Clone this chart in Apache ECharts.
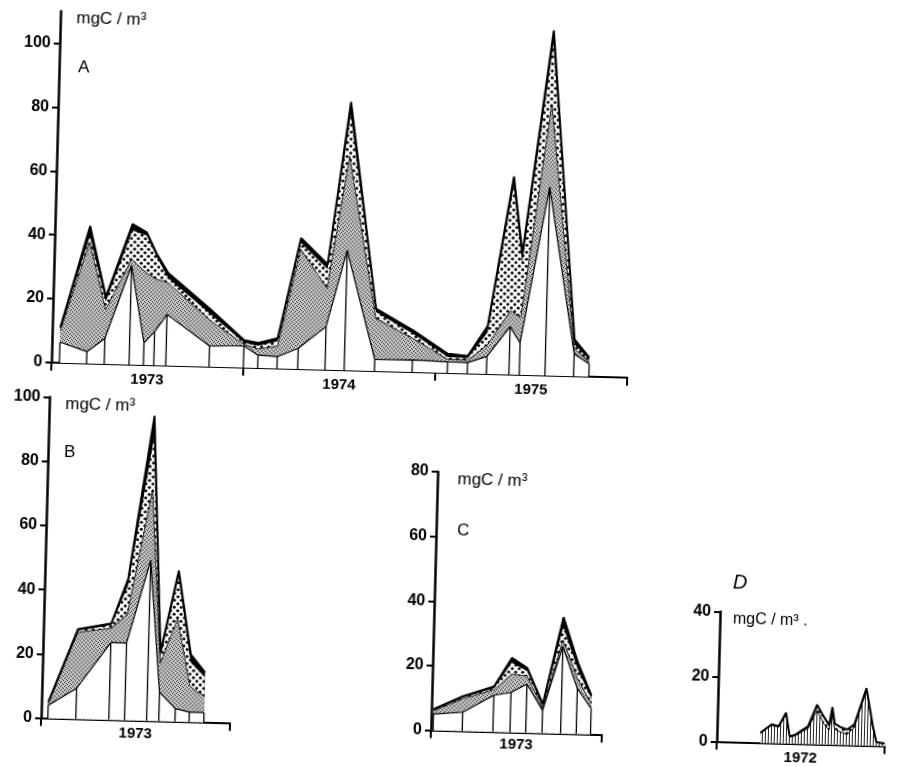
<!DOCTYPE html>
<html>
<head>
<meta charset="utf-8">
<script src="https://cdn.jsdelivr.net/npm/echarts@6/dist/echarts.min.js"></script>
<style>
html,body{margin:0;padding:0;background:#fff;overflow:hidden;}
#chart{width:898px;height:767px;transform:rotate(1.5deg);transform-origin:449px 383px;background:#fff;}
</style>
</head>
<body>
<div id="chart"></div>
<script>
// ---------- DATA (x = months from the start of the first year shown) ----------
const UNIT = 'mgC / m³';
const panelNames = ['A', 'B', 'C', 'D'];

// Panel A (1973-1975): cumulative layer tops
const A_years  = ['1973', '1974', '1975'];
const A_yTicks = [0, 20, 40, 60, 80, 100];
const A_xTicks = [0, 12, 24, 36];
const A_months = [0.5, 2.2, 3.3, 4.85, 5.75, 6.4, 7.15, 9.85, 12.0, 12.9, 14.1, 15.4, 17.1, 18.3, 20.2, 22.55, 24.75, 26.0, 27.2, 28.6, 29.25, 30.85, 32.65, 33.6];
const A_white  = [6.5, 3.7, 8, 31, 7, 10.5, 16, 6.5, 6.8, 4, 3.7, 6.5, 13.5, 37.5, 3.6, 3.8, 3.5, 3.4, 5.5, 15, 10, 59, 7, 4];
const A_gray   = [10, 38, 17, 33, 29, 27, 26, 14.5, 7.3, 6, 7, 37.5, 25.5, 67, 16.5, 10.5, 4.3, 4.2, 9, 20, 18, 85, 8.5, 4.8];
const A_dotted = [10.5, 40, 19.5, 42, 40.5, 34, 27.5, 16.5, 7.8, 7, 8.5, 39.5, 31.5, 80, 18.5, 12, 5, 4.8, 13, 59, 35, 104, 10, 5.3];
const A_total  = [11, 43, 21, 44, 41.5, 35, 29, 18, 8.6, 7.8, 9.5, 41, 33, 84, 19.5, 13, 6, 5.5, 15, 62, 38, 108, 11.5, 6];

// Panel B (1973)
const B_years  = ['1973'];
const B_yTicks = [0, 20, 40, 60, 80, 100];
const B_xTicks = [0, 12];
const B_months = [0.43, 2.2, 4.3, 5.3, 6.7, 7.47, 8.5, 9.4, 10.33];
const B_white  = [4, 9.5, 24, 24, 50, 9, 4, 3, 3];
const B_gray   = [4.5, 27, 28.5, 33, 72, 18, 32, 11, 8];
const B_dotted = [4.8, 27.5, 29.5, 42, 88, 20, 45, 18.5, 14];
const B_total  = [5, 28, 30, 44, 95, 21.5, 47, 21, 15.5];

// Panel C (1973)
const C_years  = ['1973'];
const C_yTicks = [0, 20, 40, 60, 80];
const C_xTicks = [0, 12];
const C_months = [0.15, 2.2, 4.35, 5.55, 6.65, 7.8, 9.1, 10.2, 11.2];
const C_white  = [5, 5.8, 11.3, 12.3, 15, 7, 27, 14, 8];
const C_gray   = [6, 10, 13, 18, 17.5, 7.6, 29, 17, 9.5];
const C_dotted = [6.2, 10.4, 13.5, 21.5, 19, 8.1, 33, 20, 11];
const C_total  = [6.5, 10.8, 14, 23, 20, 9, 36, 22, 12];

// Panel D (1972)
const D_years   = ['1972'];
const D_yTicks  = [0, 20, 40];
const D_xTicks  = [0, 12];
const D_months  = [3.1, 3.9, 4.4, 4.9, 5.2, 5.6, 6.1, 6.5, 7.1, 7.6, 8.0, 8.2, 8.4, 8.8, 9.3, 9.8, 10.6, 11.1, 11.4, 12.0];
const D_hatched = [3, 5.5, 5, 9, 2, 2.5, 3.8, 4.8, 10.5, 6.5, 4.5, 10.2, 4.8, 4, 3.3, 5.5, 17, 6, 1, 0.8];
const D_total   = [3.1, 5.8, 5.3, 9.5, 2.2, 2.8, 4.3, 5.5, 12.2, 8.6, 6, 11.6, 6.5, 5.5, 4.8, 6.5, 17.7, 6.5, 1.2, 0.8];

// ---------- FILL PATTERNS ----------
function makeCanvas(w, h, draw) {
  const c = document.createElement('canvas'); c.width = w; c.height = h;
  draw(c.getContext('2d')); return c;
}
const grayPat = makeCanvas(4, 4, g => {
  g.fillStyle = '#cbcbcb'; g.fillRect(0, 0, 4, 4);
  g.fillStyle = '#333';
  [[0, 0], [2, 1], [1, 3], [3, 2]].forEach(p => g.fillRect(p[0], p[1], 1, 1));
});
const dotPat = makeCanvas(7, 7, g => {
  g.fillStyle = '#fff'; g.fillRect(0, 0, 7, 7);
  g.fillStyle = '#111';
  [[1.75, 1.75], [5.25, 5.25]].forEach(p => { g.beginPath(); g.arc(p[0], p[1], 1.6, 0, Math.PI * 2); g.fill(); });
});
const hatchPat = makeCanvas(3, 3, g => {
  g.fillStyle = '#fff'; g.fillRect(0, 0, 3, 3);
  g.fillStyle = '#222'; g.fillRect(0, 0, 1, 3);
});
const pat = c => ({ image: c, repeat: 'repeat' });

// ---------- HELPERS ----------
const FONT = "'Liberation Sans', Arial, sans-serif";
const pts = (months, arr) => months.map((m, k) => [m, arr[k]]);

function areaSeries(idx, months, arr, fill, lineW) {
  return {
    type: 'line', xAxisIndex: idx, yAxisIndex: idx, symbol: 'none', silent: true,
    data: pts(months, arr),
    lineStyle: lineW > 0 ? { color: '#000', width: lineW } : { opacity: 0 },
    areaStyle: { color: fill, opacity: 1 }
  };
}
function stickSeries(idx, months, arr) {
  return {
    type: 'custom', xAxisIndex: idx, yAxisIndex: idx, silent: true, z: 10,
    clip: false,
    encode: { x: 0, y: 1 },
    data: pts(months, arr),
    renderItem: (params, api) => {
      const p0 = api.coord([api.value(0), 0]);
      const p1 = api.coord([api.value(0), api.value(1)]);
      return { type: 'line', z2: 100,
               shape: { x1: p0[0], y1: p0[1], x2: p1[0], y2: p1[1] },
               style: { stroke: '#000', lineWidth: 1.3, fill: null } };
    }
  };
}
function layered(idx, months, white, gray, dotted, total) {
  return [
    areaSeries(idx, months, total, '#000', 2),
    areaSeries(idx, months, dotted, pat(dotPat), 0),
    areaSeries(idx, months, gray, pat(grayPat), 0.8),
    areaSeries(idx, months, white, '#fff', 1.2),
    stickSeries(idx, months, white)
  ];
}
function yAx(idx, max, ticks) {
  return {
    type: 'value', gridIndex: idx, min: 0, max: max,
    axisLine: { show: true, lineStyle: { color: '#000', width: 2.5 } },
    axisTick: { show: true, length: 6, customValues: ticks, lineStyle: { color: '#000', width: 2 } },
    axisLabel: { customValues: ticks, margin: 9, color: '#000', fontSize: 16, fontWeight: 'bold', fontFamily: FONT },
    splitLine: { show: false }
  };
}
function xAx(idx, ticks, years, margin) {
  const max = ticks[ticks.length - 1];
  return {
    type: 'value', gridIndex: idx, min: 0, max: max,
    axisLine: { show: true, onZero: false, lineStyle: { color: '#000', width: 2 } },
    axisTick: { show: true, length: 8, customValues: ticks, lineStyle: { color: '#000', width: 2 } },
    axisLabel: {
      customValues: years.map((y, i) => 12 * i + 6),
      formatter: v => years[Math.floor(v / 12)],
      margin: margin, color: '#000', fontSize: 15, fontWeight: 'bold', fontFamily: FONT
    },
    splitLine: { show: false }
  };
}
const unitStyle = { fontFamily: FONT, fontSize: 17, fontWeight: 'normal', color: '#000' };
const nameStyle = { fontFamily: FONT, fontSize: 17, fontWeight: 'normal', color: '#000' };

// ---------- CHART ----------
const chart = echarts.init(document.getElementById('chart'));
chart.setOption({
  animation: false,
  backgroundColor: '#fff',
  title: [
    { text: UNIT, left: 67, top: 20, padding: 0, textStyle: unitStyle },
    { text: panelNames[0], left: 70, top: 69, padding: 0, textStyle: nameStyle },
    { text: UNIT, left: 66, top: 406, padding: 0, textStyle: unitStyle },
    { text: panelNames[1], left: 66, top: 454, padding: 0, textStyle: nameStyle },
    { text: UNIT, left: 460, top: 471, padding: 0, textStyle: unitStyle },
    { text: panelNames[2], left: 461, top: 522, padding: 0, textStyle: nameStyle },
    { text: UNIT + ' .', left: 739, top: 604, padding: 0, textStyle: { ...unitStyle, fontSize: 16 } },
    { text: panelNames[3], left: 738, top: 565, padding: 0, textStyle: { ...nameStyle, fontSize: 20, fontStyle: 'italic' } }
  ],
  grid: [
    { left: 51, top: 21.5, width: 576, height: 351.5, outerBoundsMode: 'none' },
    { left: 50, top: 407.5, width: 189, height: 321, outerBoundsMode: 'none' },
    { left: 440, top: 472, width: 171, height: 258.5, outerBoundsMode: 'none' },
    { left: 726, top: 604.6, width: 168, height: 130, outerBoundsMode: 'none' }
  ],
  xAxis: [
    xAx(0, A_xTicks, A_years, 7),
    xAx(1, B_xTicks, B_years, 6),
    xAx(2, C_xTicks, C_years, 5),
    xAx(3, D_xTicks, D_years, 7)
  ],
  yAxis: [
    yAx(0, 110, A_yTicks),
    yAx(1, 100, B_yTicks),
    yAx(2, 80, C_yTicks),
    yAx(3, 40, D_yTicks)
  ],
  series: [].concat(
    layered(0, A_months, A_white, A_gray, A_dotted, A_total),
    layered(1, B_months, B_white, B_gray, B_dotted, B_total),
    layered(2, C_months, C_white, C_gray, C_dotted, C_total),
    [
      areaSeries(3, D_months, D_total, pat(dotPat), 2),
      areaSeries(3, D_months, D_hatched, pat(hatchPat), 1)
    ]
  )
});
</script>
</body>
</html>
